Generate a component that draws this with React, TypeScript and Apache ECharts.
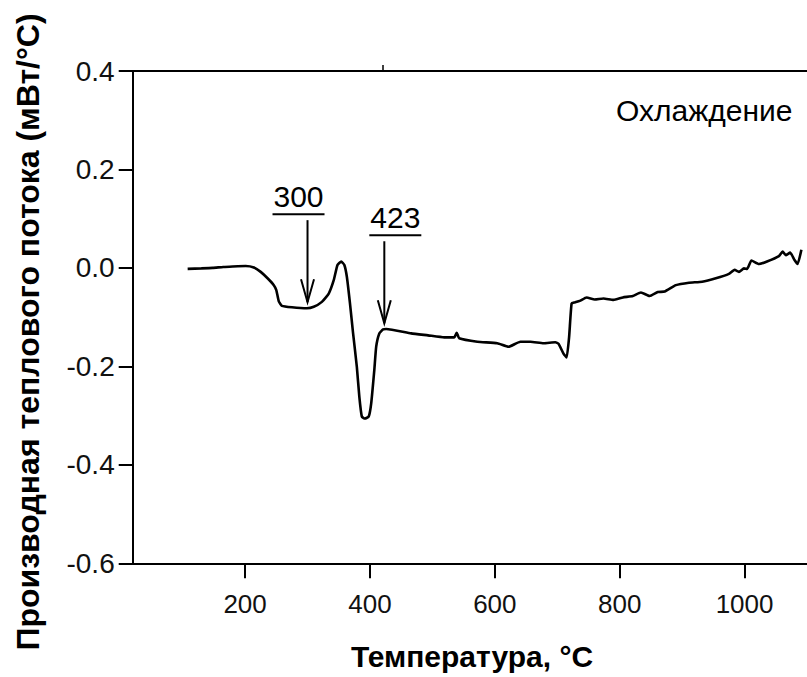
import React, { useEffect, useRef } from "react";
import * as echarts from "echarts";

// DSC derivative curve on cooling: temperature (°C) and heat-flow derivative (mW/°C)
const temperature = [
  108, 130, 148, 165, 180, 201, 214, 225, 236, 246, 250, 254, 259, 275, 299, 310,
  323, 334, 342, 348, 354, 359, 363, 368, 373, 379, 383, 387, 392, 398, 402, 407,
  410, 415, 421, 426, 466, 493, 519, 535, 539, 543, 572, 604, 622, 641, 657, 678,
  697, 702, 710, 715, 719, 723, 728, 736, 747, 760, 774, 790, 805, 821, 834, 848,
  861, 872, 890, 911, 932, 954, 975, 984, 991, 999, 1004, 1011, 1023, 1036, 1055,
  1061, 1066, 1073, 1080, 1085, 1091,
];
const heatFlowDeriv = [
  -0.002, -0.001, 0.0, 0.002, 0.003, 0.004, 0.001, -0.008, -0.021, -0.035, -0.045,
  -0.068, -0.077, -0.08, -0.082, -0.079, -0.069, -0.052, -0.025, 0.006, 0.013, 0.006,
  -0.018, -0.072, -0.133, -0.201, -0.262, -0.302, -0.306, -0.302, -0.275, -0.207,
  -0.16, -0.133, -0.125, -0.124, -0.133, -0.137, -0.141, -0.141, -0.132, -0.143,
  -0.15, -0.153, -0.16, -0.15, -0.15, -0.153, -0.151, -0.154, -0.174, -0.182, -0.14,
  -0.072, -0.07, -0.067, -0.06, -0.064, -0.062, -0.065, -0.06, -0.057, -0.05, -0.057,
  -0.049, -0.048, -0.035, -0.03, -0.028, -0.021, -0.012, -0.004, -0.008, -0.001,
  -0.002, 0.015, 0.008, 0.013, 0.024, 0.033, 0.026, 0.031, 0.016, 0.008, 0.037,
];

// x tick labels and annotated transition temperatures
const xTicks = [200, 400, 600, 800, 1000];
const transitionTemps = [300, 423];
const transitionLabelShift = [-9, 11];

const FONT = "'Liberation Sans', Arial, sans-serif";

function curveAt(t: number): number {
  for (let i = 1; i < temperature.length; i++) {
    if (temperature[i] >= t) {
      const t0 = temperature[i - 1];
      const t1 = temperature[i];
      const f = (t - t0) / (t1 - t0);
      return heatFlowDeriv[i - 1] + f * (heatFlowDeriv[i] - heatFlowDeriv[i - 1]);
    }
  }
  return heatFlowDeriv[heatFlowDeriv.length - 1];
}

export default function App() {
  const ref = useRef<HTMLDivElement>(null);

  useEffect(() => {
    if (!ref.current) return;
    const chart = echarts.init(ref.current, undefined, { renderer: "svg" });

    const axisLine = { show: true, onZero: false, lineStyle: { color: "#000", width: 2 } };

    chart.setOption({
      animation: false,
      backgroundColor: "#fff",
      grid: { left: 132.7, right: -5, top: 71, bottom: 113.7, containLabel: false },
      xAxis: [
        {
          type: "value",
          position: "bottom",
          min: 20,
          max: 1100,
          axisLine,
          axisTick: {
            show: true,
            customValues: xTicks,
            length: 15,
            lineStyle: { color: "#000", width: 2 },
          },
          axisLabel: {
            customValues: xTicks,
            fontSize: 26,
            fontFamily: FONT,
            color: "#111",
            margin: 28,
            formatter: (v: number) => String(v),
          },
          splitLine: { show: false },
        },
        {
          type: "value",
          position: "top",
          min: 20,
          max: 1100,
          axisLine,
          axisTick: {
            show: true,
            customValues: [421],
            length: 6,
            lineStyle: { color: "#000", width: 1.5 },
          },
          axisLabel: { show: false },
          splitLine: { show: false },
        },
      ],
      yAxis: {
        type: "value",
        min: -0.6,
        max: 0.4,
        interval: 0.2,
        axisLine,
        axisTick: { show: true, length: 14, lineStyle: { color: "#000", width: 2 } },
        axisLabel: {
          fontSize: 28,
          fontFamily: FONT,
          color: "#111",
          margin: 18,
          formatter: (v: number) => v.toFixed(1),
        },
        splitLine: { show: false },
      },
      series: [
        {
          type: "line",
          xAxisIndex: 0,
          data: temperature.map((t, i) => [t, heatFlowDeriv[i]]),
          showSymbol: false,
          smooth: 0.15,
          lineStyle: { color: "#000", width: 2.6 },
        },
      ],
    });

    const graphics: any[] = [];
    transitionTemps.forEach((t, i) => {
      const [px, py] = chart.convertToPixel({ xAxisIndex: 0, yAxisIndex: 0 }, [t, curveAt(t)]);
      const tip = py - 6;
      const start = tip - 82;
      const cx = px + transitionLabelShift[i];
      graphics.push(
        {
          type: "line",
          shape: { x1: px, y1: start, x2: px, y2: tip },
          style: { stroke: "#000", lineWidth: 2 },
        },
        {
          type: "polyline",
          shape: { points: [[px - 6.5, tip - 23], [px, tip], [px + 6.5, tip - 23]] },
          style: { stroke: "#000", lineWidth: 2, fill: null },
        },
        {
          type: "text",
          style: {
            x: cx,
            y: start - 9,
            text: String(t),
            font: `30px ${FONT}`,
            fill: "#000",
            textAlign: "center",
            textVerticalAlign: "bottom",
          },
        },
        {
          type: "line",
          shape: { x1: cx - 26, y1: start - 6, x2: cx + 26, y2: start - 6 },
          style: { stroke: "#000", lineWidth: 2 },
        }
      );
    });

    graphics.push(
      {
        type: "text",
        style: {
          x: 616,
          y: 95,
          text: "Охлаждение",
          font: `30px ${FONT}`,
          fill: "#000",
          textAlign: "left",
          textVerticalAlign: "top",
        },
      },
      {
        type: "text",
        x: 28,
        y: 332,
        rotation: Math.PI / 2,
        style: {
          x: 0,
          y: 0,
          text: "Производная теплового потока (мВт/°C)",
          font: `bold 32px ${FONT}`,
          fill: "#000",
          textAlign: "center",
          textVerticalAlign: "middle",
        },
      },
      {
        type: "text",
        style: {
          x: 472,
          y: 656,
          text: "Температура, °C",
          font: `bold 30px ${FONT}`,
          fill: "#000",
          textAlign: "center",
          textVerticalAlign: "middle",
        },
      }
    );

    chart.setOption({ graphic: graphics });

    return () => chart.dispose();
  }, []);

  return (
    <div
      ref={ref}
      style={{ position: "absolute", left: 0, top: 0, width: 807, height: 677 }}
    />
  );
}
